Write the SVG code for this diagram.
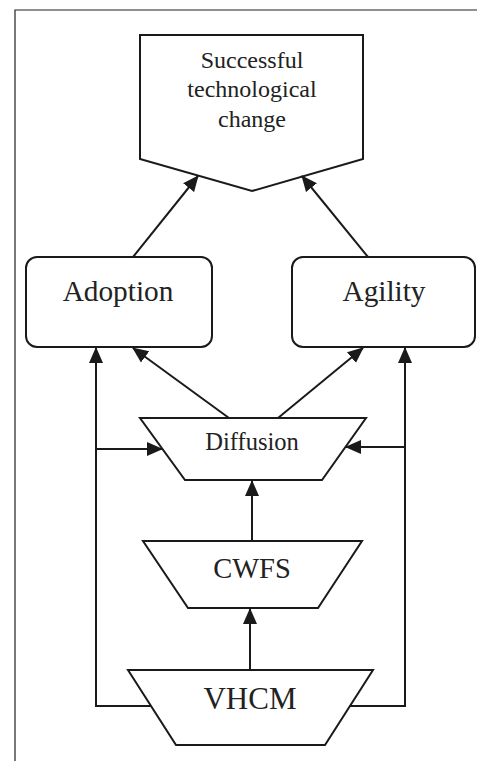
<svg xmlns="http://www.w3.org/2000/svg" width="477" height="761" viewBox="0 0 477 761">
<style>
.shape{fill:#fff;stroke:#1a1a1a;stroke-width:2;stroke-linejoin:miter}
.t{font-family:"Liberation Serif","Times New Roman",serif;fill:#222;text-anchor:middle}
.c{fill:none;stroke:#1a1a1a;stroke-width:2}
</style>
<defs>
<marker id="ah" markerUnits="userSpaceOnUse" markerWidth="16" markerHeight="16" viewBox="0 0 16 16" refX="15" refY="8" orient="auto">
<path d="M0,1 L16,8 L0,15 Z" fill="#1a1a1a"/>
</marker>
</defs>
<rect width="477" height="761" fill="#fff"/>
<path d="M15,761 V10 H477" fill="none" stroke="#222" stroke-width="1.2"/>
<g id="goal">
<path class="shape" d="M140,35 H363 V159 L252,191 L140,159 Z"/>
<text class="t" font-size="24" x="252" y="68">Successful</text>
<text class="t" font-size="24" x="252" y="97">technological</text>
<text class="t" font-size="24" x="252" y="127">change</text>
</g>
<g id="adoption">
<rect class="shape" x="26" y="257" width="186" height="90" rx="11"/>
<text class="t" font-size="29.3" x="118" y="301">Adoption</text>
</g>
<g id="agility">
<rect class="shape" x="292" y="257" width="183" height="90" rx="11"/>
<text class="t" font-size="29.3" x="384" y="301">Agility</text>
</g>
<g id="diffusion">
<path class="shape" d="M140,418 H366 L322,480 H185 Z"/>
<text class="t" font-size="24.5" x="252" y="450">Diffusion</text>
</g>
<g id="cwfs">
<path class="shape" d="M143,541 H362 L318,608 H188 Z"/>
<text class="t" font-size="28.5" x="252" y="578">CWFS</text>
</g>
<g id="vhcm">
<path class="shape" d="M128,670 H373 L325,745 H176 Z"/>
<text class="t" font-size="31" x="250" y="709">VHCM</text>
</g>
<g id="connectors">
<line class="c" x1="133" y1="257" x2="198" y2="176" marker-end="url(#ah)"/>
<line class="c" x1="368" y1="257" x2="302" y2="176" marker-end="url(#ah)"/>
<line class="c" x1="229" y1="418" x2="133" y2="348" marker-end="url(#ah)"/>
<line class="c" x1="278" y1="418" x2="363" y2="348" marker-end="url(#ah)"/>
<path class="c" d="M151,706 H96 V348" marker-end="url(#ah)"/>
<path class="c" d="M350,706 H405 V348" marker-end="url(#ah)"/>
<line class="c" x1="96" y1="449" x2="162" y2="449" marker-end="url(#ah)"/>
<line class="c" x1="405" y1="447" x2="346" y2="447" marker-end="url(#ah)"/>
<line class="c" x1="252" y1="540" x2="252" y2="481" marker-end="url(#ah)"/>
<line class="c" x1="250" y1="669" x2="250" y2="609" marker-end="url(#ah)"/>
</g>
</svg>
